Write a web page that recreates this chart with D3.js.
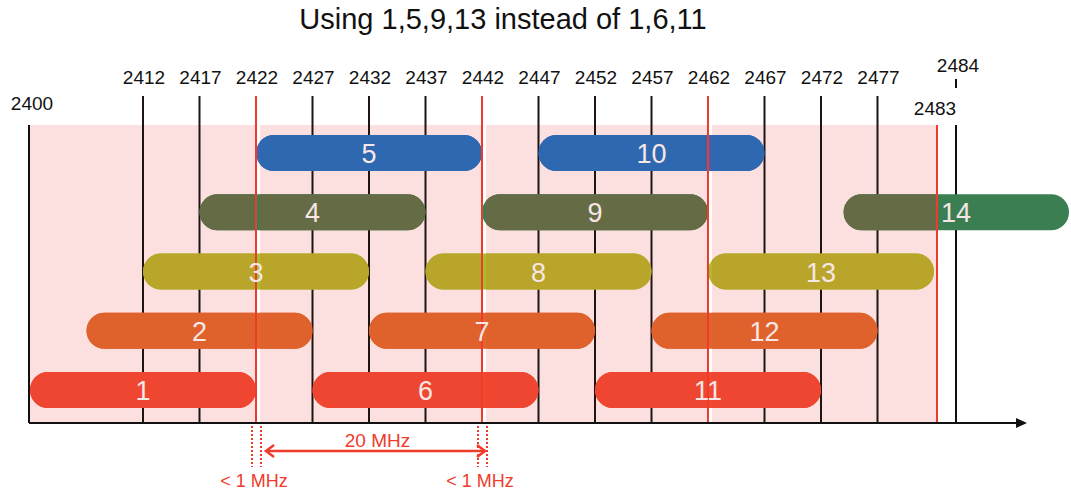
<!DOCTYPE html>
<html><head><meta charset="utf-8">
<script src="https://cdn.jsdelivr.net/npm/d3@7"></script>
<style>
body{margin:0;background:#fff}
svg{display:block;font-family:"Liberation Sans",Arial,sans-serif}
</style>
</head><body>
<svg id="chart" width="1071" height="493"></svg>
<script>
// ---------- data ----------
const titleText = "Using 1,5,9,13 instead of 1,6,11";
const channels = [1,2,3,4,5,6,7,8,9,10,11,12,13,14];
const centerFreqs = [2412,2417,2422,2427,2432,2437,2442,2447,2452,2457,2462,2467,2472,2484];
const channelRows = [0,1,2,3,4,0,1,2,3,4,0,1,2,3];
const channelHalfWidth = 10;          // MHz each side of the centre
const gridFreqs = [2412,2417,2427,2432,2437,2447,2452,2457,2467,2472,2477];
const boundaryFreqs = [2422,2442,2462];
const topLabels = [2412,2417,2422,2427,2432,2437,2442,2447,2452,2457,2462,2467,2472,2477];
const bandStart = 2400, bandEnd = 2483, ch14Freq = 2484;
const spacingFrom = 2422, spacingTo = 2442;
const spacingLabel = "20 MHz", guardLabel = "< 1 MHz";
const rowColorsOnBand = ["#ee4630","#df612b","#b8a52a","#646b45","#2e68b0"];
const rowColorsTrue   = ["#f04a30","#e4652c","#a8bd2e","#3a7e52","#4461b0"];

// ---------- layout ----------
const svg = d3.select("#chart");
const x = d3.scaleLinear()
  .domain([2400, 2402, 2482, 2483, 2484, 2494])
  .range([29, 30, 934, 937, 956, 1069]);
const y = d3.scalePoint().domain([0,1,2,3,4]).range([390, 153]);
const axisY = 423, bandTop = 125, lineTop = 96, pillH = 36;
const red = "#ee3b2b", dark = "#1e1414";

const channelData = channels.map((c,i)=>({ch:c, f:centerFreqs[i], row:channelRows[i]}));

// pink band segments (split at boundaries with a thin white gap)
const edges = [bandStart, ...boundaryFreqs, bandEnd];
const segs = d3.pairs(edges).map(([a,b],i)=>({x0:x(a)+(i>0?4:0), x1:x(b)}));
svg.append("g").selectAll("rect").data(segs).join("rect")
  .attr("x",d=>d.x0).attr("y",bandTop).attr("width",d=>d.x1-d.x0).attr("height",axisY-bandTop)
  .attr("fill","#fce0e0");
const defs = svg.append("defs");
defs.append("clipPath").attr("id","bandClip").selectAll("rect").data(segs).join("rect")
  .attr("x",d=>d.x0).attr("y",bandTop).attr("width",d=>d.x1-d.x0).attr("height",axisY-bandTop);

// black grid lines
svg.append("g").selectAll("line").data(gridFreqs).join("line")
  .attr("x1",d=>x(d)).attr("x2",d=>x(d)).attr("y1",lineTop).attr("y2",axisY)
  .attr("stroke",dark).attr("stroke-width",2);
svg.append("g").selectAll("line").data([bandStart, ch14Freq]).join("line")
  .attr("x1",d=>x(d)).attr("x2",d=>x(d)).attr("y1",bandTop).attr("y2",axisY)
  .attr("stroke","#111").attr("stroke-width",2);
svg.append("line").attr("x1",x(ch14Freq)).attr("x2",x(ch14Freq)).attr("y1",79).attr("y2",88)
  .attr("stroke","#111").attr("stroke-width",2);

// pills (true colours), then band-tinted copy clipped to band
const pillAttrs = sel => sel
  .attr("x",d=>x(d.f-channelHalfWidth)).attr("y",d=>y(d.row)-pillH/2)
  .attr("width",d=>x(d.f+channelHalfWidth)-x(d.f-channelHalfWidth)).attr("height",pillH)
  .attr("rx",pillH/2).attr("ry",pillH/2);
svg.append("g").selectAll("rect").data(channelData).join("rect").call(pillAttrs)
  .attr("fill",d=>rowColorsTrue[d.row]);
svg.append("g").attr("clip-path","url(#bandClip)").selectAll("rect").data(channelData).join("rect").call(pillAttrs)
  .attr("fill",d=>rowColorsOnBand[d.row]);

// red boundary lines
svg.append("g").selectAll("line").data(boundaryFreqs).join("line")
  .attr("x1",d=>x(d)).attr("x2",d=>x(d)).attr("y1",lineTop).attr("y2",axisY)
  .attr("stroke",red).attr("stroke-width",2);
svg.append("line").attr("x1",x(bandEnd)).attr("x2",x(bandEnd)).attr("y1",bandTop).attr("y2",axisY)
  .attr("stroke",red).attr("stroke-width",2);

// pill labels
svg.append("g").selectAll("text").data(channelData).join("text")
  .attr("x",d=>x(d.f)).attr("y",d=>y(d.row)+10)
  .attr("text-anchor","middle").attr("font-size",27).attr("fill","#f7e6e6")
  .text(d=>d.ch);

// frequency labels
svg.append("g").selectAll("text").data(topLabels).join("text")
  .attr("x",d=>x(d)+1).attr("y",84).attr("text-anchor","middle")
  .attr("font-size",19).attr("fill","#111").text(d=>d);
svg.append("text").attr("x",x(bandStart)+3).attr("y",110).attr("text-anchor","middle")
  .attr("font-size",19).attr("fill","#111").text(bandStart);
svg.append("text").attr("x",x(bandEnd)-2).attr("y",115).attr("text-anchor","middle")
  .attr("font-size",19).attr("fill","#111").text(bandEnd);
svg.append("text").attr("x",x(ch14Freq)+2).attr("y",72).attr("text-anchor","middle")
  .attr("font-size",19).attr("fill","#111").text(ch14Freq);

// frequency axis with arrow
svg.append("line").attr("x1",x(bandStart)).attr("x2",1018).attr("y1",axisY).attr("y2",axisY)
  .attr("stroke","#111").attr("stroke-width",2);
svg.append("path").attr("d",`M1016,${axisY-5}L1027,${axisY}L1016,${axisY+5}Z`).attr("fill","#111");

// spacing annotation
const ann = svg.append("g").attr("stroke",red).attr("fill","none");
[spacingFrom, spacingTo].forEach(f=>{
  [-4,5].forEach(o=>{
    ann.append("line").attr("x1",x(f)+o).attr("x2",x(f)+o).attr("y1",axisY+3).attr("y2",467)
      .attr("stroke-width",2).attr("stroke-dasharray","2,2");
  });
});
const ax0 = x(spacingFrom)+10, ax1 = x(spacingTo)+3, ay = 451;
ann.append("line").attr("x1",ax0).attr("x2",ax1).attr("y1",ay).attr("y2",ay).attr("stroke-width",2.5);
ann.append("path").attr("d",`M${ax0+8},${ay-6}L${ax0},${ay}L${ax0+8},${ay+6}`).attr("stroke-width",2.5);
ann.append("path").attr("d",`M${ax1-8},${ay-6}L${ax1},${ay}L${ax1-8},${ay+6}`).attr("stroke-width",2.5);
svg.append("text").attr("x",(ax0+ax1)/2+2).attr("y",447).attr("text-anchor","middle")
  .attr("font-size",19).attr("fill",red).text(spacingLabel);
svg.append("g").selectAll("text").data([spacingFrom, spacingTo]).join("text")
  .attr("x",d=>x(d)-2).attr("y",487).attr("text-anchor","middle")
  .attr("font-size",18).attr("fill",red).text(guardLabel);

// title
svg.append("text").attr("x",503).attr("y",29).attr("text-anchor","middle")
  .attr("font-size",29).attr("fill","#111").text(titleText);
</script>
</body></html>
